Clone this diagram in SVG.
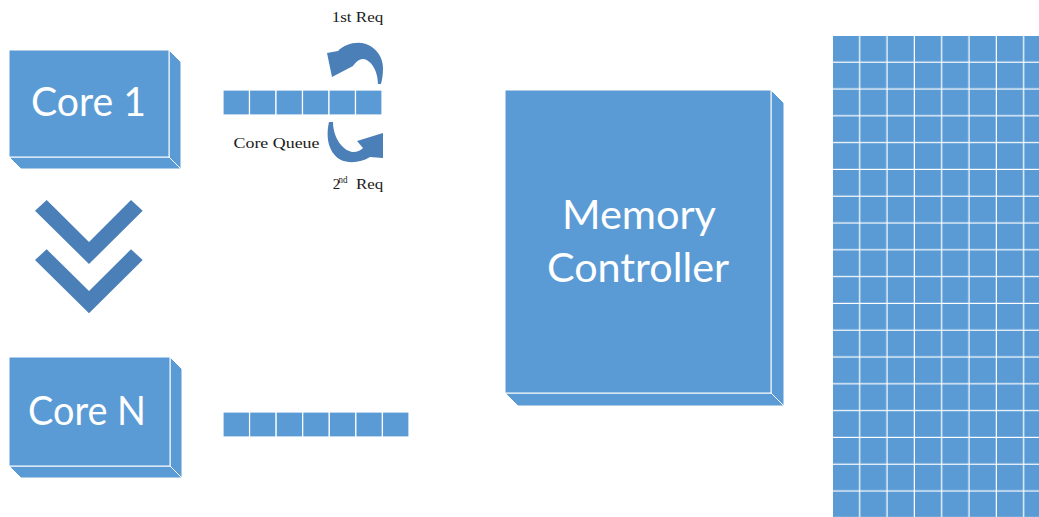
<svg xmlns="http://www.w3.org/2000/svg" width="1039" height="517" viewBox="0 0 1039 517">
<style>
.box{fill:#5b9bd5;stroke:#ffffff;stroke-width:1}
.big{font-family:Lato,"Liberation Sans",sans-serif;font-size:40px;fill:#ffffff}
.small{font-family:"Liberation Serif",serif;font-size:15px;fill:#1a1a1a}
.dark{fill:#4b7fb8}
.cell{fill:#5b9bd5;stroke:#ffffff;stroke-width:1.2}
</style>
<defs>
<pattern id="grid" patternUnits="userSpaceOnUse" x="833" y="36" width="27.33" height="26.8">
<rect x="0" y="0" width="27.33" height="26.8" fill="#ffffff"/>
<rect x="0" y="0" width="26.1" height="25.6" fill="#5b9bd5"/>
</pattern>
</defs>
<rect width="1039" height="517" fill="#ffffff"/>

<g id="core1">
<polygon class="box" points="169,50 181,62 181,169 169,157"/>
<polygon class="box" points="9,157 169,157 181,169 21,169"/>
<rect class="box" x="9" y="50" width="160" height="107"/>
<text class="big" x="31" y="116" textLength="115" lengthAdjust="spacingAndGlyphs">Core 1</text>
</g>

<g id="coreN">
<polygon class="box" points="170,357 182,369 182,478 170,466"/>
<polygon class="box" points="9,466 170,466 182,478 21,478"/>
<rect class="box" x="9" y="357" width="161" height="109"/>
<text class="big" x="28" y="425" textLength="118" lengthAdjust="spacingAndGlyphs">Core N</text>
</g>

<g id="memctrl">
<polygon class="box" points="771,90 784,103 784,406 771,393"/>
<polygon class="box" points="505,393 771,393 784,406 518,406"/>
<rect class="box" x="505" y="90" width="266" height="303"/>
<text class="big" x="562" y="229" textLength="154" lengthAdjust="spacingAndGlyphs">Memory</text>
<text class="big" x="547" y="282" textLength="182" lengthAdjust="spacingAndGlyphs">Controller</text>
</g>

<g id="queue1">
<rect class="cell" x="223" y="90" width="26.5" height="25"/>
<rect class="cell" x="249.5" y="90" width="26.5" height="25"/>
<rect class="cell" x="276" y="90" width="26.5" height="25"/>
<rect class="cell" x="302.5" y="90" width="26.5" height="25"/>
<rect class="cell" x="329" y="90" width="26.5" height="25"/>
<rect class="cell" x="355.5" y="90" width="26.5" height="25"/>
<text class="small" x="233.5" y="148" textLength="86" lengthAdjust="spacingAndGlyphs">Core Queue</text>
</g>

<g id="queueN">
<rect class="cell" x="223" y="412" width="26.57" height="25"/>
<rect class="cell" x="249.57" y="412" width="26.57" height="25"/>
<rect class="cell" x="276.14" y="412" width="26.57" height="25"/>
<rect class="cell" x="302.71" y="412" width="26.57" height="25"/>
<rect class="cell" x="329.28" y="412" width="26.57" height="25"/>
<rect class="cell" x="355.85" y="412" width="26.57" height="25"/>
<rect class="cell" x="382.42" y="412" width="26.57" height="25"/>
</g>

<g id="memory-array">
<rect x="833" y="36" width="206" height="481" fill="url(#grid)"/>
</g>

<g id="connectors">
<g id="chevrons" class="dark">
<polygon points="35,210.7 46.7,200 89,242 131,200 142.7,210.7 89,264"/>
<polygon points="35,260 46.7,249.3 89,291 131,249.3 142.7,260 89,313.3"/>
</g>
<g id="req1">
<path class="dark" d="M378,84 C378,72 372,60 363,59 C359,59 356,62 353,66 L332,77 L327,53 L338,51 C345,44 356,41 366,44 C377,48 383,58 383,68 C383,75 382,80 381,84 Z"/>
<text class="small" x="331.7" y="22" textLength="51.6" lengthAdjust="spacingAndGlyphs">1st Req</text>
</g>
<g id="req2">
<path class="dark" d="M333,122 C333,138 343,151 353,152 C358,152 361,150 363,148 L357,141 L383,133 L383,158 L370,157 C362,162 350,164 341,160 C330,154 325,140 329,122 Z"/>
<text class="small" x="332.7" y="189.3">2</text>
<text class="small" x="338.5" y="183" style="font-size:10px" textLength="9" lengthAdjust="spacingAndGlyphs">nd</text>
<text class="small" x="356" y="189.3" textLength="27.3" lengthAdjust="spacingAndGlyphs">Req</text>
</g>
</g>
</svg>
